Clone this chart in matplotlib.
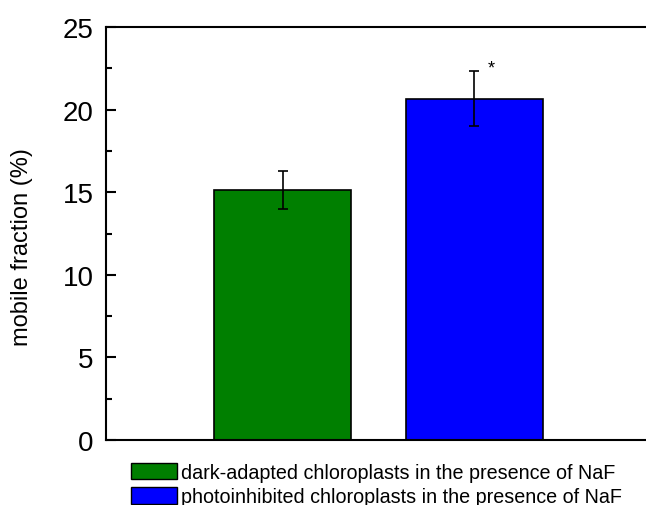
import numpy as np
import matplotlib.pyplot as plt
from matplotlib.patches import Patch
from matplotlib.ticker import MultipleLocator

plt.rcParams['font.family'] = ['Liberation Sans', 'DejaVu Sans']

# data
labels = ['dark-adapted chloroplasts in the presence of NaF',
          'photoinhibited chloroplasts in the presence of NaF']
means = [15.13, 20.67]
errors = [1.15, 1.67]
colors = ['#007f00', '#0000ff']
positions = [1, 2]

fig = plt.figure(figsize=(6.46, 5.06), dpi=100)
ax = fig.add_axes([106 / 646, 65 / 506, 545 / 646, 413 / 506])

ax.bar(positions, means, width=0.715, color=colors, edgecolor='black',
       linewidth=1.2, zorder=2)
ax.errorbar(positions, means, yerr=errors, fmt='none', ecolor='black',
            elinewidth=1.2, capsize=3.5, capthick=1.2, zorder=3)
ax.text(2.086, means[1] + errors[1] + 0.15, '*', fontsize=13,
        ha='center', va='center')

ax.set_xlim(0.08, 2.92)
ax.set_ylim(0, 25)
ax.set_xticks([])
ax.yaxis.set_major_locator(MultipleLocator(5))
ax.yaxis.set_minor_locator(MultipleLocator(2.5))
ax.tick_params(axis='y', which='major', direction='in', length=7.5, width=1.5,
               labelsize=20, pad=9)
ax.tick_params(axis='y', which='minor', direction='in', length=4, width=1.5)
for side in ['left', 'bottom', 'top', 'right']:
    ax.spines[side].set_linewidth(1.5)
ax.set_ylabel('mobile fraction (%)', fontsize=17)
ax.yaxis.set_label_coords(-0.134, 0.47)

handles = [Patch(facecolor=c, edgecolor='black', linewidth=1.0) for c in colors]
fig.legend(handles, labels, loc='upper left',
           bbox_to_anchor=(117 / 646, 1 - 450 / 506), frameon=False,
           fontsize=14.2, handlelength=2.35, handleheight=0.9,
           handletextpad=0.2, labelspacing=0.28, borderpad=0.2)

fig.savefig('out.png', dpi=100)
